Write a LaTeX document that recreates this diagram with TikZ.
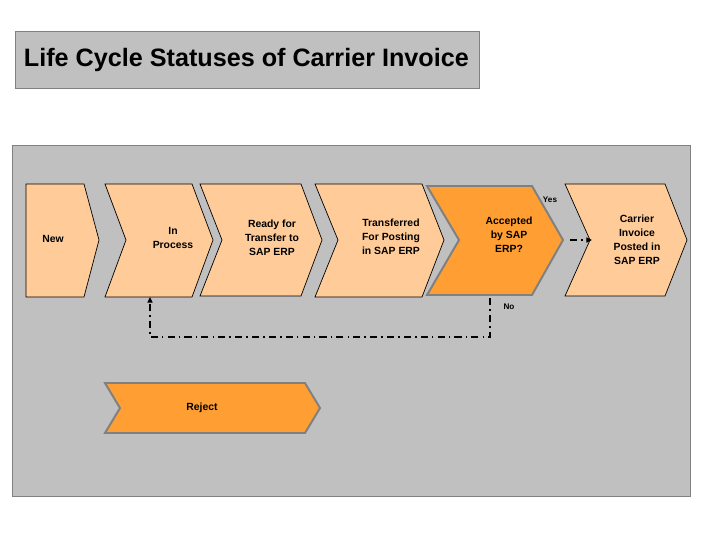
\documentclass[tikz,border=0pt]{standalone}
\usepackage{fontspec}
\setmainfont{Liberation Sans}
\usetikzlibrary{arrows.meta}
\definecolor{panelgray}{HTML}{C0C0C0}
\definecolor{edgegray}{HTML}{808080}
\definecolor{peach}{HTML}{FFCC99}
\definecolor{sapOrange}{HTML}{FF9F33}

\begin{document}
\begin{tikzpicture} [x=0.025cm, y=-0.025cm, >={Triangle[length=4pt,width=3.6pt]},
  status/.style={fill=peach, draw=black, line width=0.5pt},
  decide/.style={fill=sapOrange, draw=edgegray, line width=1.4pt},
  lbl/.style={font=\fontsize{7.4}{10}\selectfont\bfseries, align=center},
  tiny/.style={font=\fontsize{5.8}{7}\selectfont\bfseries},
  dashdot/.style={dash pattern=on 5pt off 3pt on 1pt off 3pt, line width=0.8pt}]
\useasboundingbox (0,0) rectangle (720,540);
\fill[white] (0,0) rectangle (720,540);
\draw[fill=panelgray, draw=edgegray] (15,31) rectangle (479,88);
\node[anchor=west, font=\fontsize{17.9}{20}\selectfont\bfseries] (title) at (19,60)
    {Life Cycle Statuses of Carrier Invoice};
\draw[fill=panelgray, draw=edgegray] (12,145) rectangle (690,496);
% the statuses
\draw[status] (26,184) -- (84,184) -- (99,240) -- (84,297) -- (26,297) -- cycle;
\draw[status] (105,184) -- (192,184) -- (213,240) -- (192,297) -- (105,297) -- (126,240) -- cycle;
\draw[status] (200,184) -- (301,184) -- (322,240) -- (301,296) -- (200,296) -- (222,240) -- cycle;
\draw[status] (315,184) -- (422,184) -- (444,240) -- (422,297) -- (315,297) -- (338,240) -- cycle;
\draw[decide] (427,186) -- (532,186) -- (563,240) -- (532,295) -- (427,295) -- (459,240) -- cycle;
\draw[status] (565,184) -- (665,184) -- (687,240) -- (665,296) -- (565,296) -- (590,240) -- cycle;
\draw[decide] (105,383) -- (305,383) -- (320,408) -- (305,433) -- (105,433) -- (120,408) -- cycle;
\node[lbl] (new) at (53,239) {New};
\node[lbl] (inproc) at (173,238) {In\\Process};
\node[lbl] (ready) at (272,238) {Ready for\\Transfer to\\SAP ERP};
\node[lbl] (transf) at (391,237) {Transferred\\For Posting\\in SAP ERP};
\node[lbl] (accept) at (509,235) {Accepted\\by SAP\\ERP?};
\node[lbl] (posted) at (637,240) {Carrier\\Invoice\\Posted in\\SAP ERP};
\node[lbl] (reject) at (202,408) {Reject};
\node[tiny] (yes) at (550,200) {Yes};
\node[tiny] (no) at (509,307) {No};
% decision paths
\coordinate (acctip) at (570,240);
\coordinate (postnotch) at (592,240);
\coordinate (nofrom) at (490,298);
\coordinate (noto) at (150,297);
\draw[dashdot, ->] (acctip) -- (postnotch);
\draw[dashdot, ->] (nofrom) -- ++(0,39) -| (noto);
\end{tikzpicture}
\end{document}
